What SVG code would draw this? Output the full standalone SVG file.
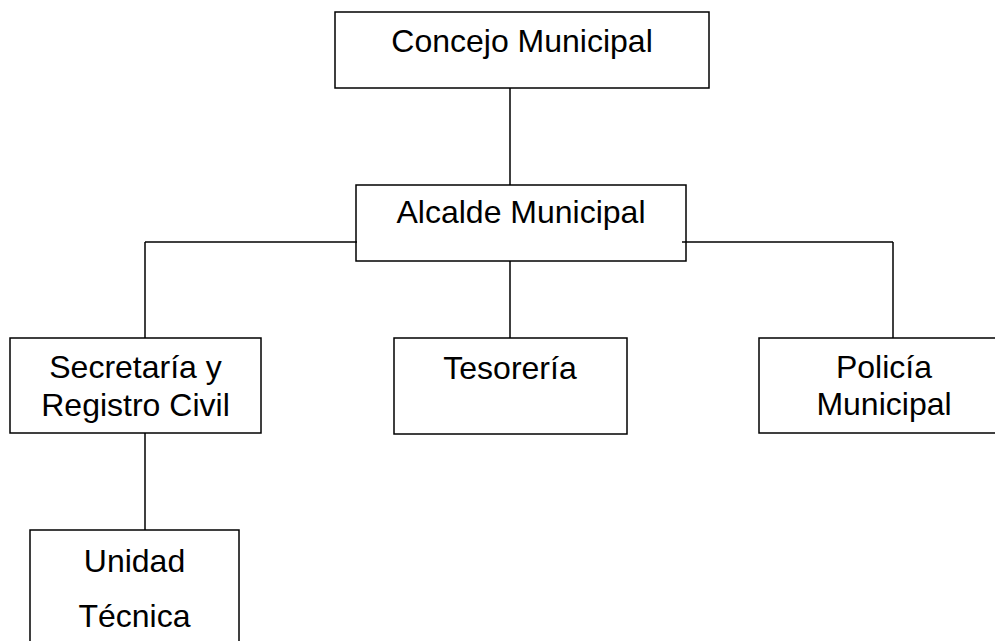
<svg xmlns="http://www.w3.org/2000/svg" width="995" height="641" viewBox="0 0 995 641">
<style>
rect{fill:#fff;stroke:#000;stroke-width:1.5}
line{stroke:#000;stroke-width:1.5}
text{font-family:"Liberation Sans",Arial,sans-serif;font-size:32px;fill:#000;text-anchor:middle}
</style>
<rect x="0" y="0" width="995" height="641" style="stroke:none"/>
<g id="concejo">
<rect x="335" y="12" width="374" height="76"/>
<text x="522" y="52">Concejo Municipal</text>
</g>
<g id="alcalde">
<rect x="356" y="185" width="330" height="76"/>
<text x="521" y="223">Alcalde Municipal</text>
</g>
<g id="secretaria">
<rect x="10" y="338" width="251" height="95"/>
<text x="135.5" y="378">Secretaría y</text>
<text x="135.5" y="416">Registro Civil</text>
</g>
<g id="tesoreria">
<rect x="394" y="338" width="233" height="96"/>
<text x="510" y="379">Tesorería</text>
</g>
<g id="policia">
<rect x="759" y="338" width="250" height="95"/>
<text x="884" y="378">Policía</text>
<text x="884" y="415">Municipal</text>
</g>
<g id="unidad">
<rect x="30" y="530" width="209" height="130"/>
<text x="134.5" y="572">Unidad</text>
<text x="134.5" y="627">Técnica</text>
</g>
<g id="connectors">
<line x1="510" y1="88" x2="510" y2="185"/>
<line x1="145" y1="242" x2="357" y2="242"/>
<line x1="682" y1="242" x2="893" y2="242"/>
<line x1="145" y1="242" x2="145" y2="338"/>
<line x1="510" y1="261" x2="510" y2="338"/>
<line x1="893" y1="242" x2="893" y2="338"/>
<line x1="145" y1="433" x2="145" y2="530"/>
</g>
</svg>
